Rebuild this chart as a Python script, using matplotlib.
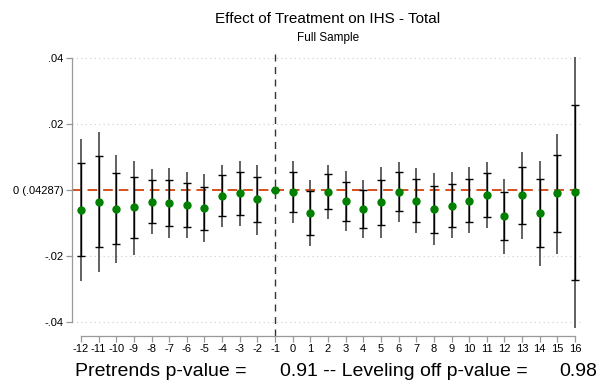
import matplotlib.pyplot as plt
import numpy as np

plt.rcParams['font.family'] = ['Liberation Sans', 'DejaVu Sans']

# event time relative to treatment (-1 is the omitted period)
periods = list(range(-12, 17))

coef = [-0.0061, -0.0036, -0.0058, -0.0053, -0.0036, -0.0040, -0.0046, -0.0055,
        -0.0018, -0.0010, -0.0029, 0.0,
        -0.0006, -0.0071, -0.0006, -0.0034, -0.0058, -0.0037, -0.0006, -0.0033,
        -0.0059, -0.0048, -0.0033, -0.0016, -0.0080, -0.0017, -0.0070, -0.0011, -0.0007]

# 90% interval (capped)
ci90_lo = [-0.0200, -0.0172, -0.0164, -0.0145, -0.0100, -0.0109, -0.0112, -0.0122,
           -0.0078, -0.0075, -0.0098, 0.0,
           -0.0068, -0.0136, -0.0059, -0.0093, -0.0117, -0.0107, -0.0065, -0.0096,
           -0.0130, -0.0112, -0.0096, -0.0081, -0.0153, -0.0102, -0.0173, -0.0129, -0.0273]
ci90_hi = [0.0080, 0.0104, 0.0050, 0.0040, 0.0030, 0.0030, 0.0021, 0.0010,
           0.0044, 0.0055, 0.0039, 0.0,
           0.0054, -0.0004, 0.0048, 0.0025, 0.0000, 0.0031, 0.0054, 0.0033,
           0.0012, 0.0018, 0.0033, 0.0050, -0.0006, 0.0069, 0.0033, 0.0106, 0.0258]

# 95% interval (plain line)
ci95_lo = [-0.0277, -0.0249, -0.0223, -0.0197, -0.0134, -0.0146, -0.0146, -0.0158,
           -0.0112, -0.0110, -0.0136, 0.0,
           -0.0101, -0.0171, -0.0088, -0.0126, -0.0147, -0.0145, -0.0096, -0.0132,
           -0.0167, -0.0147, -0.0132, -0.0117, -0.0193, -0.0149, -0.0230, -0.0193, -0.0418]
ci95_hi = [0.0154, 0.0176, 0.0107, 0.0089, 0.0064, 0.0066, 0.0055, 0.0048,
           0.0075, 0.0089, 0.0075, 0.0,
           0.0086, 0.0030, 0.0075, 0.0057, 0.0030, 0.0068, 0.0085, 0.0066,
           0.0050, 0.0053, 0.0068, 0.0084, 0.0033, 0.0114, 0.0087, 0.0170, 0.0403]

baseline_mean = ".04287"
pre_p = 0.91
post_p = 0.98

x = np.array(periods)
b = np.array(coef)

fig = plt.figure(figsize=(6.1, 3.84), dpi=100)
ax = fig.add_axes([0.118, 0.125, 0.8377, 0.7448])

ax.vlines(x, ci95_lo, ci95_hi, color='#555555', lw=1.3, zorder=2)
ax.errorbar(x, b, yerr=[b - np.array(ci90_lo), np.array(ci90_hi) - b], fmt='none',
            ecolor='black', elinewidth=1.0, capsize=2.6, capthick=1.0, zorder=3)
ax.axhline(0, color='#d4521c', lw=1.4, ls=(0, (5, 3)), zorder=1)
ax.axvline(-1, color='#333333', lw=1.0, ls=(0, (5, 4)), zorder=1)
ax.plot(x, b, 'o', color='#008000', ms=5, zorder=4)

yt = [-0.04, -0.02, 0, 0.02, 0.04]
for v in yt:
    if v != 0:
        ax.axhline(v, color='#cccccc', lw=0.8, ls=(0, (1, 3)), zorder=0)

ax.set_xlim(-12.51, 16.45)
ax.set_ylim(-0.0443, 0.0424)
ax.set_yticks(yt)
ax.set_yticklabels(['-.04', '-.02', '0 (' + baseline_mean + ')', '.02', '.04'])
ax.set_xticks(periods)
ax.set_xticklabels([str(p) for p in periods])

for s in ['top', 'right']:
    ax.spines[s].set_visible(False)
ax.spines['left'].set_bounds(-0.04, 0.04)
ax.spines['bottom'].set_bounds(-12, 16)
for s in ['left', 'bottom']:
    ax.spines[s].set_color('#999999')
    ax.spines[s].set_linewidth(0.9)
ax.tick_params(axis='both', colors='#999999', labelcolor='black', length=4,
               width=0.9, labelsize=8, pad=2)

fig.text(0.537, 0.95, 'Effect of Treatment on IHS - Total', ha='center',
         va='center', fontsize=11)
fig.text(0.537, 0.9, 'Full Sample', ha='center', va='center', fontsize=8.5)

# p-value footnote, spread out as in the Stata note
fig.text(75 / 610, 0.02, 'Pretrends p-value =', ha='left', va='baseline', fontsize=14)
fig.text(280 / 610, 0.02, '%.2f -- Leveling off p-value =' % pre_p, ha='left',
         va='baseline', fontsize=14)
fig.text(559 / 610, 0.02, '%.2f' % post_p, ha='left', va='baseline', fontsize=14)

fig.savefig('out.png', dpi=100)
